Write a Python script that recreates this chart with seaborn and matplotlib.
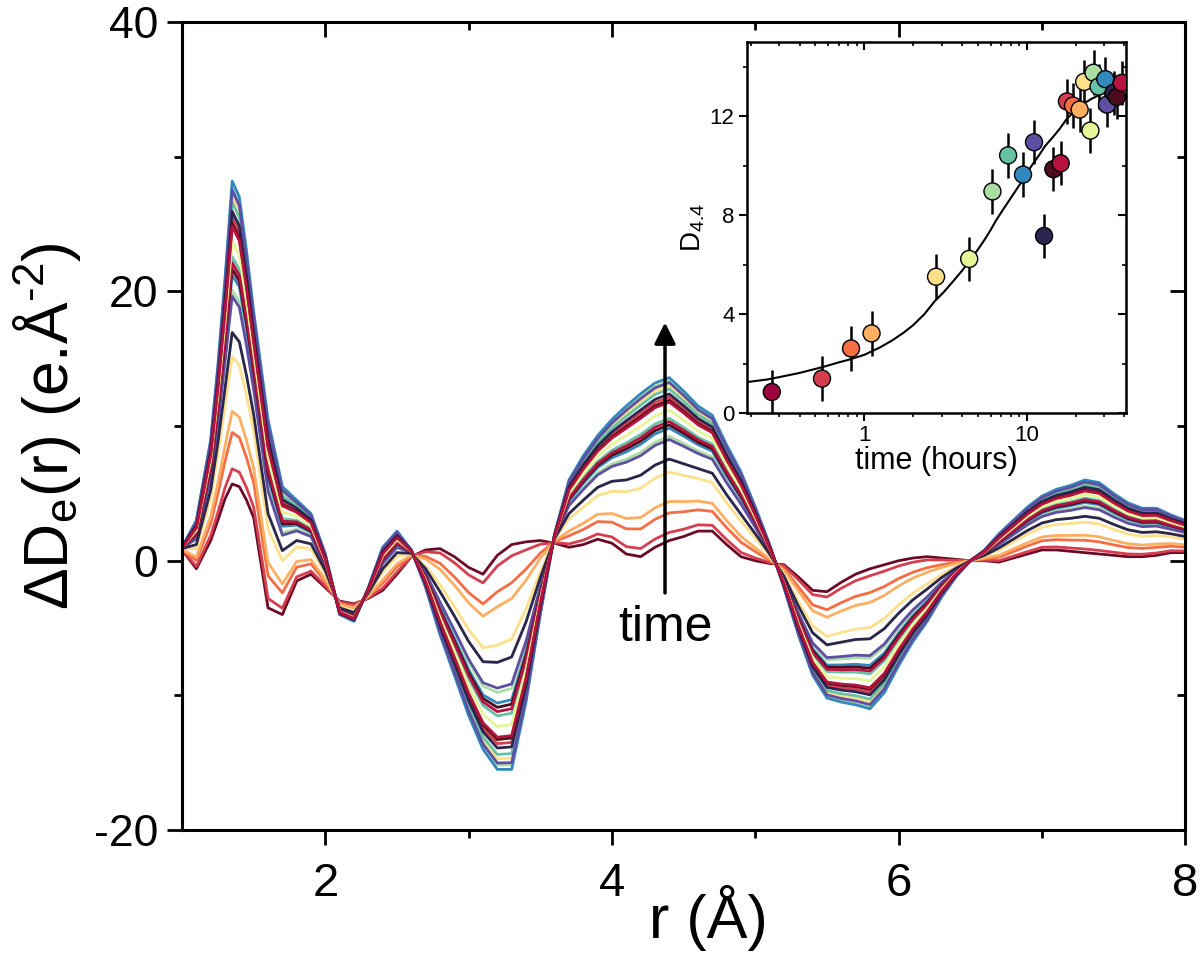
import matplotlib
matplotlib.use("Agg")
import numpy as np
import pandas as pd
import matplotlib.pyplot as plt
import seaborn as sns
from matplotlib.ticker import NullFormatter, LogLocator

# r grid (Å)
r_grid = [1.0, 1.1, 1.2, 1.25, 1.3, 1.35, 1.4, 1.45, 1.5, 1.6, 1.7, 1.8, 1.9,
          2.0, 2.1, 2.2, 2.3, 2.4, 2.5, 2.6, 2.7, 2.8, 2.9, 3.0, 3.1, 3.2, 3.3,
          3.4, 3.5, 3.6, 3.7, 3.8, 3.9, 4.0, 4.1, 4.2, 4.3, 4.4, 4.5, 4.6, 4.7,
          4.8, 4.9, 5.0, 5.1, 5.2, 5.3, 5.4, 5.5, 5.6, 5.7, 5.8, 5.9, 6.0, 6.1,
          6.2, 6.3, 6.4, 6.5, 6.6, 6.7, 6.8, 6.9, 7.0, 7.1, 7.2, 7.3, 7.4, 7.5,
          7.6, 7.7, 7.8, 7.9, 8.0]

# earliest difference curve
early_curve = [0.8, -0.6, 1.5, 3.0, 4.6, 5.7, 5.5, 4.5, 3.2, -3.5, -4.0, -1.5, -1.0,
               -2.0, -3.0, -3.2, -2.8, -2.2, -1.0, 0.3, 0.8, 0.9, 0.3, -0.5, -1.0, 0.4, 1.2,
               1.4, 1.5, 1.3, 1.0, 1.2, 1.6, 1.3, 0.5, 0.3, 1.0, 1.5, 1.8, 2.2, 2.2,
               1.2, 0.3, 0.0, -0.2, -0.3, -1.2, -2.2, -2.3, -1.6, -1.0, -0.6, -0.3, 0.0, 0.2,
               0.3, 0.2, 0.1, 0.0, 0.0, -0.1, 0.2, 0.5, 0.8, 0.8, 0.7, 0.6, 0.5, 0.4,
               0.3, 0.3, 0.4, 0.6, 0.6]

# latest (largest) difference curve
late_curve = [1.0, 3.0, 9.0, 14.5, 21.0, 28.2, 27.0, 23.0, 18.5, 10.5, 5.5, 4.5, 3.5,
              0.5, -4.0, -4.5, -2.0, 1.0, 2.2, 0.8, -2.0, -5.5, -8.5, -11.5, -14.0, -15.5, -15.5,
              -10.5, -4.0, 2.0, 6.0, 7.8, 9.3, 10.5, 11.5, 12.4, 13.2, 13.6, 12.6, 11.5, 10.8,
              8.6, 6.6, 4.0, 1.2, -2.0, -5.5, -8.5, -10.2, -10.5, -10.7, -11.0, -9.8, -7.8, -6.0,
              -4.5, -2.7, -1.2, 0.0, 0.8, 2.0, 3.0, 4.0, 4.8, 5.3, 5.6, 6.0, 5.8, 5.0,
              4.3, 3.9, 3.9, 3.4, 3.0]

# one colour per measurement, in time order
curve_colors = ["#6b0a26", "#d53e4f", "#f46d43", "#fdae61", "#fee08b", "#e6f598",
                "#abdda4", "#66c2a5", "#3288bd", "#5e4fa2", "#2b2550", "#4d0d1f",
                "#b5123f", "#d53e4f", "#f46d43", "#fdae61", "#fee08b", "#e6f598",
                "#abdda4", "#66c2a5", "#3288bd", "#5e4fa2", "#2b2550", "#4d0d1f",
                "#b5123f"]
# position of each curve between earliest and latest profile
curve_mix = [0.0, 0.05, 0.17, 0.24, 0.42, 0.5, 0.64, 0.75, 0.69, 0.62, 0.5, 0.71,
             0.73, 0.88, 0.86, 0.85, 0.95, 0.8, 0.98, 0.93, 1.0, 0.97, 0.9, 0.86, 0.85]

# inset: D4.4 vs time
t_hours = [0.27, 0.55, 0.83, 1.11, 2.77, 4.43, 6.16, 7.69, 9.5, 11.1, 12.8, 14.6,
           16.2, 17.7, 19.3, 21.2, 22.6, 24.7, 25.8, 27.7, 30.5, 31.2, 34.3, 35.9, 38.5]
d44 = [0.85, 1.39, 2.61, 3.22, 5.51, 6.23, 8.96, 10.42, 9.64, 10.95, 7.16, 9.86,
       10.1, 12.6, 12.43, 12.27, 13.39, 11.42, 13.76, 13.2, 13.5, 12.47, 12.95, 12.78, 13.35]
d44_err = [0.9] * len(d44)
point_colors = ["#9e0142", "#d53e4f", "#f46d43", "#fdae61", "#fee08b", "#e6f598",
                "#abdda4", "#66c2a5", "#3288bd", "#5e4fa2", "#2b2550", "#4d0d1f",
                "#b5123f", "#d53e4f", "#f46d43", "#fdae61", "#fee08b", "#e6f598",
                "#abdda4", "#66c2a5", "#3288bd", "#5e4fa2", "#2b2550", "#4d0d1f",
                "#b5123f"]

fit_t = [0.19, 0.25, 0.3, 0.4, 0.55, 0.7, 0.8, 1.0, 1.25, 1.5, 1.75, 2.0, 2.35, 2.7,
         3.1, 3.5, 4.0, 4.5, 5.0, 5.5, 6.0, 6.5, 7.2, 8.0, 9.2, 10.0, 11.0, 12.0,
         13.0, 14.7, 16.0, 17.7, 20.4, 23.0, 25.0, 30.0, 35.0, 41.0]
fit_d = [1.25, 1.35, 1.45, 1.62, 1.85, 2.05, 2.15, 2.35, 2.65, 2.95, 3.25, 3.55, 4.0, 4.5,
         4.9, 5.3, 5.75, 6.2, 6.6, 7.0, 7.4, 7.8, 8.25, 8.7, 9.3, 9.7, 10.1, 10.45,
         10.8, 11.2, 11.5, 11.9, 12.3, 12.55, 12.7, 12.95, 13.1, 13.2]

sns.set_style("ticks")
plt.rcParams['font.family'] = ['Liberation Sans', 'DejaVu Sans']
plt.rcParams['mathtext.fontset'] = 'custom'
plt.rcParams['mathtext.rm'] = 'Liberation Sans'
plt.rcParams['mathtext.default'] = 'regular'
plt.rcParams['axes.unicode_minus'] = False
for k in ['text.color', 'axes.labelcolor', 'xtick.color', 'ytick.color', 'axes.edgecolor']:
    plt.rcParams[k] = 'black'

early = np.array(early_curve)
late = np.array(late_curve)
rows = []
for i, w in enumerate(curve_mix):
    vals = early + w * (late - early)
    for rr, vv in zip(r_grid, vals):
        rows.append({"r": rr, "dD": vv, "curve": i})
df = pd.DataFrame(rows)
pal = {i: c for i, c in enumerate(curve_colors)}

fig = plt.figure(figsize=(12, 9.56), dpi=100)
ax = fig.add_axes([0.1517, 0.1318, 0.836, 0.845])

sns.lineplot(data=df, x="r", y="dD", hue="curve", palette=pal, legend=False,
             sort=False, estimator=None, linewidth=2.0, ax=ax)
for ln in ax.get_lines():
    ln.set_solid_joinstyle("round")

ax.set_xlim(1, 8)
ax.set_ylim(-20, 40)
ax.set_xticks([2, 4, 6, 8])
ax.set_xticks([3, 5, 7], minor=True)
ax.set_yticks([-20, 0, 20, 40])
ax.set_yticks([-10, 10, 30], minor=True)
ax.tick_params(axis='x', which='major', direction='out', length=11, width=2, labelsize=34, pad=12)
ax.tick_params(axis='y', which='major', direction='out', length=11, width=2, labelsize=32, pad=6)
ax.tick_params(which='minor', direction='out', length=6, width=2)
for s in ax.spines.values():
    s.set_linewidth(2.2)
    s.set_visible(True)

top = ax.secondary_xaxis('top')
top.set_xticks([2, 4, 6, 8])
top.set_xticks([3, 5, 7], minor=True)
top.xaxis.set_major_formatter(NullFormatter())
top.tick_params(which='major', direction='in', length=11, width=2)
top.tick_params(which='minor', direction='in', length=6, width=2)
right = ax.secondary_yaxis('right')
right.set_yticks([-20, 0, 20, 40])
right.set_yticks([-10, 10, 30], minor=True)
right.yaxis.set_major_formatter(NullFormatter())
right.tick_params(which='major', direction='in', length=11, width=2)
right.tick_params(which='minor', direction='in', length=6, width=2)

ax.set_xlabel("r (Å)", fontsize=44, labelpad=2)
ax.xaxis.set_label_coords(0.525, -0.068)
ax.set_ylabel(r"ΔD$_e$(r) (e.Å$^{\text{-}2}$)", fontsize=45, labelpad=8)

ax.annotate("", xy=(4.37, 17.9), xytext=(4.37, -2.6),
            arrowprops=dict(arrowstyle="-|>", color="black", lw=2.5, mutation_scale=32))
ax.text(4.37, -5.0, "time", fontsize=36, ha="center", va="center")

# inset
axi = fig.add_axes([0.6225, 0.568, 0.316, 0.388])
axi.set_xscale("log")
axi.plot(fit_t, fit_d, color="black", lw=1.5, zorder=2)
axi.errorbar(t_hours, d44, yerr=d44_err, fmt="none", ecolor="black", elinewidth=1.8, zorder=3)
ipal = {i: c for i, c in enumerate(point_colors)}
sns.scatterplot(x=t_hours, y=d44, hue=list(range(len(d44))), palette=ipal, legend=False,
                s=150, edgecolor="black", linewidth=1.0, zorder=4, ax=axi)
axi.set_xlim(0.19, 41)
axi.set_ylim(0, 15)
axi.set_xticks([1, 10], ["1", "10"])
axi.xaxis.set_minor_locator(LogLocator(base=10, subs=np.arange(2, 10)))
axi.xaxis.set_minor_formatter(NullFormatter())
axi.set_yticks([0, 4, 8, 12])
axi.set_yticks([2, 6, 10, 14], minor=True)
axi.tick_params(which='major', direction='out', length=6, width=1.5, labelsize=16, pad=3)
axi.tick_params(which='minor', direction='out', length=3, width=1.2)
for s in axi.spines.values():
    s.set_linewidth(1.8)
    s.set_visible(True)
itop = axi.secondary_xaxis('top')
itop.set_xticks([1, 10])
itop.xaxis.set_minor_locator(LogLocator(base=10, subs=np.arange(2, 10)))
itop.xaxis.set_major_formatter(NullFormatter())
itop.xaxis.set_minor_formatter(NullFormatter())
itop.tick_params(which='major', direction='in', length=6, width=1.5)
itop.tick_params(which='minor', direction='in', length=3, width=1.2)
iright = axi.secondary_yaxis('right')
iright.set_yticks([0, 4, 8, 12])
iright.set_yticks([2, 6, 10, 14], minor=True)
iright.yaxis.set_major_formatter(NullFormatter())
iright.tick_params(which='major', direction='in', length=6, width=1.5)
iright.tick_params(which='minor', direction='in', length=3, width=1.2)
axi.set_xlabel("time (hours)", fontsize=22, labelpad=0)
axi.set_ylabel("D$_{4.4}$", fontsize=20, labelpad=2)

fig.savefig("out.png", dpi=100)
